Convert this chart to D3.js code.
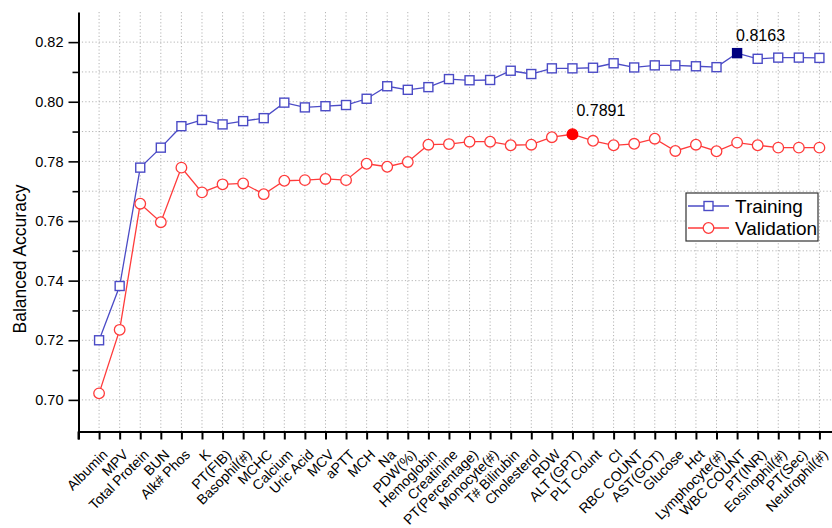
<!DOCTYPE html>
<html>
<head>
<meta charset="utf-8">
<script src="https://cdn.jsdelivr.net/npm/d3@7"></script>
<style>
  html, body { margin: 0; padding: 0; background: #fff; }
  svg { display: block; font-family: Arial, "Liberation Sans", sans-serif; }
</style>
</head>
<body>
<svg id="chart" width="832" height="528"></svg>
<script>
// Features added one at a time, in order
const categories = [
  "Albumin", "MPV", "Total Protein", "BUN", "Alk# Phos", "K", "PT(FIB)",
  "Basophil(#)", "MCHC", "Calcium", "Uric Acid", "MCV", "aPTT", "MCH", "Na",
  "PDW(%)", "Hemoglobin", "Creatinine", "PT(Percentage)", "Monocyte(#)",
  "T# Bilirubin", "Cholesterol", "RDW", "ALT (GPT)", "PLT Count", "Cl",
  "RBC COUNT", "AST(GOT)", "Glucose", "Hct", "Lymphocyte(#)", "WBC COUNT",
  "PT(INR)", "Eosinophil(#)", "PT(Sec)", "Neutrophil(#)"
];

// Balanced accuracy on the training set
const training = [
  0.7200, 0.7382, 0.7779, 0.7846, 0.7918, 0.7939, 0.7924, 0.7935, 0.7945,
  0.7997, 0.7981, 0.7985, 0.7989, 0.8010, 0.8052, 0.8040, 0.8049, 0.8076,
  0.8072, 0.8073, 0.8104, 0.8093, 0.8112, 0.8112, 0.8114, 0.8129, 0.8115,
  0.8122, 0.8122, 0.8119, 0.8116, 0.8163, 0.8144, 0.8148, 0.8148, 0.8147
];

// Balanced accuracy on the validation set
const validation = [
  0.7022, 0.7235, 0.7658, 0.7596, 0.7779, 0.7696, 0.7723, 0.7726, 0.7690,
  0.7735, 0.7737, 0.7741, 0.7737, 0.7792, 0.7782, 0.7798, 0.7856, 0.7858,
  0.7866, 0.7866, 0.7854, 0.7856, 0.7881, 0.7891, 0.7869, 0.7854, 0.7859,
  0.7876, 0.7835, 0.7856, 0.7834, 0.7863, 0.7854, 0.7846, 0.7846, 0.7846
];

const yMajorTicks = [0.70, 0.72, 0.74, 0.76, 0.78, 0.80, 0.82];
const yMinorTicks = [0.71, 0.73, 0.75, 0.77, 0.79, 0.81];
const yGridValues = [0.70, 0.71, 0.72, 0.73, 0.74, 0.75, 0.76, 0.77, 0.78, 0.79, 0.80, 0.81, 0.82];
const seriesNames = ["Training", "Validation"];

const svg = d3.select("#chart");
const axisLeftX = 78.5, axisBottomY = 431.5, plotTop = 12, plotRight = 840;

// index -1 sits on the y axis, categories start one step to the right
const x = d3.scaleLinear().domain([-1, 36]).range([axisLeftX, plotRight]);
const y = d3.scaleLinear().domain([0.6894, 0.8301]).range([axisBottomY, plotTop]);

const blue = "#4b4bc6", blueDark = "#000080";
const red = "#ff3b3b", redFill = "#ff0000";

svg.append("rect").attr("width", 832).attr("height", 528).attr("fill", "#fff");

// dotted grid
const grid = svg.append("g").attr("stroke", "#b4b4b4").attr("stroke-width", 1)
  .attr("stroke-dasharray", "1.2,2.2");
grid.selectAll("line.v").data(d3.range(0, 36)).join("line").attr("class", "v")
  .attr("x1", d => x(d)).attr("x2", d => x(d))
  .attr("y1", plotTop).attr("y2", axisBottomY);
grid.selectAll("line.h").data(yGridValues).join("line").attr("class", "h")
  .attr("x1", axisLeftX).attr("x2", plotRight)
  .attr("y1", d => y(d)).attr("y2", d => y(d));

// x axis
const xAxis = d3.axisBottom(x)
  .tickValues(d3.range(-1, 37))
  .tickFormat(i => categories[i] || "")
  .tickSizeInner(8).tickSizeOuter(0);
const gx = svg.append("g").attr("transform", `translate(0,${axisBottomY})`).call(xAxis);
gx.select(".domain").attr("stroke", "#000").attr("stroke-width", 2);
gx.selectAll(".tick line").attr("stroke", "#000").attr("stroke-width", 2);
gx.selectAll(".tick text")
  .attr("x", 0).attr("y", 0).attr("dy", 0)
  .attr("text-anchor", "end")
  .attr("transform", "translate(9,24) rotate(-45)")
  .attr("font-size", 14).attr("fill", "#000")
  .attr("font-family", "Arial, 'Liberation Sans', sans-serif");

// y axis: minor then major ticks
const gyMinor = svg.append("g").attr("transform", `translate(${axisLeftX},0)`)
  .call(d3.axisLeft(y).tickValues(yMinorTicks).tickFormat("").tickSizeInner(6).tickSizeOuter(0));
gyMinor.select(".domain").remove();
gyMinor.selectAll(".tick line").attr("stroke", "#000").attr("stroke-width", 1.6);

const gy = svg.append("g").attr("transform", `translate(${axisLeftX},0)`)
  .call(d3.axisLeft(y).tickValues(yMajorTicks).tickFormat(d3.format(".2f"))
    .tickSizeInner(10).tickSizeOuter(0).tickPadding(5));
gy.select(".domain").attr("stroke", "#000").attr("stroke-width", 2);
gy.selectAll(".tick line").attr("stroke", "#000").attr("stroke-width", 1.6);
gy.selectAll(".tick text").attr("font-size", 14.5).attr("fill", "#000")
  .attr("font-family", "Arial, 'Liberation Sans', sans-serif");

// small stub of the y axis below the x axis
svg.append("line").attr("x1", axisLeftX).attr("x2", axisLeftX)
  .attr("y1", axisBottomY).attr("y2", axisBottomY + 8)
  .attr("stroke", "#000").attr("stroke-width", 2);

svg.append("text")
  .attr("transform", `translate(26,259) rotate(-90)`)
  .attr("text-anchor", "middle")
  .attr("font-size", 17.5).attr("fill", "#000")
  .text("Balanced Accuracy");

const line = d3.line().x((d, i) => x(i)).y(d => y(d));

// training series
const bestTrain = d3.maxIndex(training);
svg.append("path").datum(training).attr("d", line)
  .attr("fill", "none").attr("stroke", blue).attr("stroke-width", 1.3);
const sq = 9;
svg.append("g").selectAll("rect").data(training).join("rect")
  .attr("x", (d, i) => x(i) - sq / 2).attr("y", d => y(d) - sq / 2)
  .attr("width", sq).attr("height", sq)
  .attr("fill", (d, i) => i === bestTrain ? blueDark : "#fff")
  .attr("stroke", (d, i) => i === bestTrain ? blueDark : blue)
  .attr("stroke-width", 1.4);

// validation series
const bestVal = d3.maxIndex(validation);
svg.append("path").datum(validation).attr("d", line)
  .attr("fill", "none").attr("stroke", red).attr("stroke-width", 1.3);
svg.append("g").selectAll("circle").data(validation).join("circle")
  .attr("cx", (d, i) => x(i)).attr("cy", d => y(d)).attr("r", 5.3)
  .attr("fill", (d, i) => i === bestVal ? redFill : "#fff")
  .attr("stroke", (d, i) => i === bestVal ? redFill : red)
  .attr("stroke-width", 1.3);

// value labels at the best points
const fmt4 = d3.format(".4f");
svg.append("text")
  .attr("x", x(bestTrain) - 1).attr("y", y(training[bestTrain]) - 12)
  .attr("font-size", 16).attr("fill", "#000")
  .text(fmt4(training[bestTrain]));
svg.append("text")
  .attr("x", x(bestVal) + 4).attr("y", y(validation[bestVal]) - 18)
  .attr("font-size", 16).attr("fill", "#000")
  .text(fmt4(validation[bestVal]));

// legend
const lg = svg.append("g").attr("transform", "translate(686,193)");
lg.append("rect").attr("width", 132).attr("height", 48)
  .attr("fill", "#fff").attr("stroke", "#333").attr("stroke-width", 1.2);
const rows = lg.selectAll("g.row").data(seriesNames).join("g").attr("class", "row")
  .attr("transform", (d, i) => `translate(0,${13 + i * 22})`);
rows.append("line").attr("x1", 2).attr("x2", 43).attr("y1", 0).attr("y2", 0)
  .attr("stroke", (d, i) => i === 0 ? blue : red).attr("stroke-width", 1.3);
rows.filter((d, i) => i === 0).append("rect")
  .attr("x", 22.5 - sq / 2).attr("y", -sq / 2).attr("width", sq).attr("height", sq)
  .attr("fill", "#fff").attr("stroke", blue).attr("stroke-width", 1.4);
rows.filter((d, i) => i === 1).append("circle")
  .attr("cx", 22.5).attr("cy", 0).attr("r", 5.3)
  .attr("fill", "#fff").attr("stroke", red).attr("stroke-width", 1.3);
rows.append("text").attr("x", 49).attr("y", 0).attr("dy", "0.36em")
  .attr("font-size", 19).attr("fill", "#000")
  .text(d => d);
</script>
</body>
</html>
